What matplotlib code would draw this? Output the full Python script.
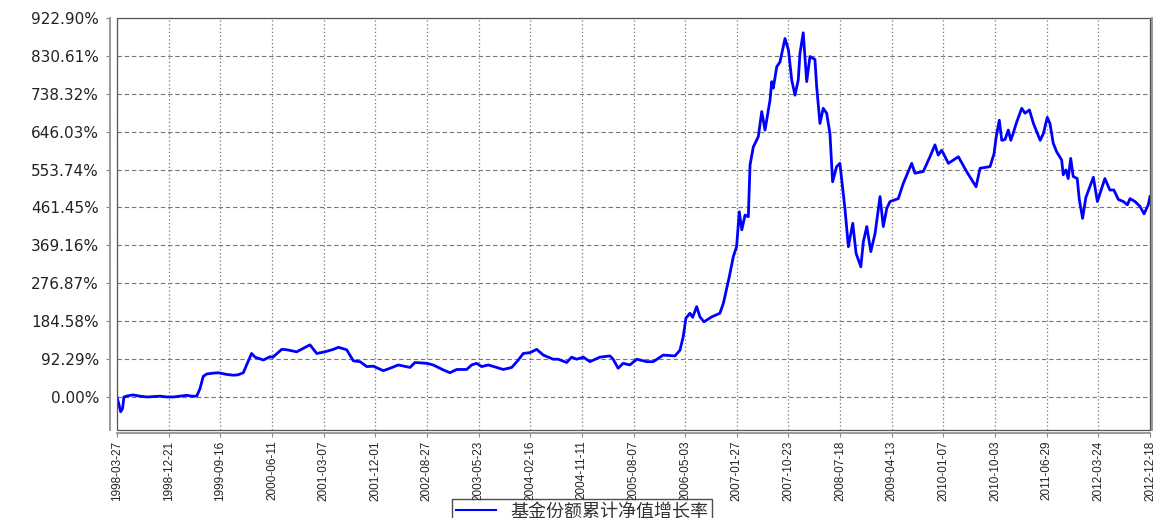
import numpy as np
import matplotlib
matplotlib.use("Agg")
import matplotlib.pyplot as plt
from matplotlib.patches import Rectangle
from matplotlib.lines import Line2D

# cumulative NAV growth (%)
dates = [
    "1998-03-27", "1998-04-06", "1998-04-15", "1998-04-25", "1998-05-02", "1998-05-23",
    "1998-06-18", "1998-07-25", "1998-08-30", "1998-09-30", "1998-11-06", "1998-12-12",
    "1999-01-13", "1999-02-18", "1999-03-25", "1999-04-21", "1999-05-16", "1999-06-02",
    "1999-06-19", "1999-07-07", "1999-08-10", "1999-09-05", "1999-10-19", "1999-11-23",
    "1999-12-17", "2000-01-14", "2000-01-31", "2000-02-26", "2000-03-15", "2000-04-27",
    "2000-06-01", "2000-06-16", "2000-08-01", "2000-08-27", "2000-10-18", "2000-12-26",
    "2001-01-30", "2001-03-14", "2001-04-27", "2001-05-23", "2001-07-05", "2001-08-09",
    "2001-09-13", "2001-10-18", "2001-11-21", "2002-01-12", "2002-02-16", "2002-03-31",
    "2002-05-31", "2002-06-26", "2002-08-26", "2002-09-29", "2002-11-20", "2002-12-25",
    "2003-01-29", "2003-03-22", "2003-04-17", "2003-05-13", "2003-06-08", "2003-07-13",
    "2003-08-25", "2003-09-29", "2003-11-12", "2003-12-16", "2004-01-11", "2004-02-15",
    "2004-03-21", "2004-04-24", "2004-06-15", "2004-07-11", "2004-08-24", "2004-09-19",
    "2004-10-15", "2004-11-19", "2004-12-23", "2005-02-13", "2005-04-06", "2005-04-23",
    "2005-05-19", "2005-06-14", "2005-07-19", "2005-08-24", "2005-10-15", "2005-11-18",
    "2006-01-09", "2006-03-11", "2006-04-06", "2006-04-23", "2006-05-07", "2006-05-28",
    "2006-06-11", "2006-07-02", "2006-07-19", "2006-08-09", "2006-09-18", "2006-10-31",
    "2006-11-18", "2006-12-19", "2007-01-09", "2007-01-26", "2007-02-09", "2007-02-22",
    "2007-03-11", "2007-03-28", "2007-04-06", "2007-04-23", "2007-05-19", "2007-06-06",
    "2007-06-23", "2007-07-19", "2007-07-28", "2007-08-05", "2007-08-23", "2007-09-09",
    "2007-10-05", "2007-10-23", "2007-11-09", "2007-11-26", "2007-12-13", "2007-12-22",
    "2008-01-08", "2008-01-26", "2008-02-12", "2008-03-09", "2008-03-18", "2008-04-04",
    "2008-04-21", "2008-05-09", "2008-05-26", "2008-06-09", "2008-06-30", "2008-07-17",
    "2008-08-13", "2008-08-30", "2008-09-22", "2008-10-09", "2008-11-03", "2008-11-16",
    "2008-12-04", "2008-12-25", "2009-01-16", "2009-02-11", "2009-02-28", "2009-03-18",
    "2009-04-04", "2009-05-17", "2009-06-12", "2009-07-26", "2009-08-12", "2009-09-24",
    "2009-10-29", "2009-11-24", "2009-12-11", "2009-12-29", "2010-02-02", "2010-03-26",
    "2010-05-08", "2010-06-26", "2010-07-17", "2010-09-07", "2010-09-28", "2010-10-08",
    "2010-10-25", "2010-11-07", "2010-11-24", "2010-12-11", "2010-12-24", "2011-01-06",
    "2011-01-24", "2011-02-19", "2011-03-08", "2011-03-31", "2011-04-21", "2011-05-08",
    "2011-05-26", "2011-06-12", "2011-07-02", "2011-07-16", "2011-08-02", "2011-08-20",
    "2011-09-15", "2011-09-23", "2011-10-07", "2011-10-19", "2011-11-01", "2011-11-14",
    "2011-12-05", "2011-12-16", "2012-01-02", "2012-01-19", "2012-02-27", "2012-03-19",
    "2012-04-10", "2012-04-27", "2012-05-23", "2012-06-13", "2012-07-06", "2012-08-01",
    "2012-08-22", "2012-09-05", "2012-10-01", "2012-10-27", "2012-11-17", "2012-12-09",
    "2012-12-18",
]
growth = [
    0, -18, -36, -28, 0, 3,
    5, 2, 0, 1, 2, 0,
    0, 2, 4, 2, 2, 20,
    50, 56, 58, 59, 55, 53,
    54, 59, 78, 106, 97, 90,
    98, 97, 116, 115, 110, 127,
    106, 110, 116, 121, 115, 88,
    86, 74, 75, 64, 70, 78,
    72, 84, 82, 78, 66, 59,
    67, 67, 78, 82, 74, 78,
    72, 67, 72, 90, 106, 108,
    116, 102, 92, 92, 84, 97,
    92, 97, 86, 97, 100, 92,
    70, 82, 78, 92, 86, 86,
    102, 100, 114, 147, 192, 204,
    194, 220, 195, 183, 195, 204,
    228, 293, 342, 366, 451, 407,
    443, 439, 565, 609, 634, 695,
    650, 723, 768, 752, 804, 816,
    873, 845, 772, 735, 772, 837,
    887, 768, 829, 822, 756, 666,
    703, 691, 642, 524, 561, 569,
    455, 366, 423, 350, 317, 378,
    415, 354, 398, 488, 415, 459,
    476, 483, 520, 569, 545, 549,
    585, 614, 589, 601, 569, 585,
    549, 512, 557, 561, 593, 630,
    674, 625, 627, 650, 625, 643,
    670, 703, 691, 699, 666, 646,
    625, 642, 681, 666, 618, 597,
    577, 541, 553, 532, 581, 537,
    532, 480, 435, 486, 535, 476,
    508, 532, 504, 504, 481, 476,
    468, 483, 476, 464, 446, 468,
    488,
]

tick_dates = [
    "1998-03-27", "1998-12-21", "1999-09-16", "2000-06-11", "2001-03-07",
    "2001-12-01", "2002-08-27", "2003-05-23", "2004-02-16", "2004-11-11",
    "2005-08-07", "2006-05-03", "2007-01-27", "2007-10-23", "2008-07-18",
    "2009-04-13", "2010-01-07", "2010-10-03", "2011-06-29", "2012-03-24",
    "2012-12-18",
]
y_ticks = [0.00, 92.29, 184.58, 276.87, 369.16, 461.45, 553.74, 646.03, 738.32, 830.61, 922.90]
legend_label = "基金份额累计净值增长率"

x = np.array(dates, dtype="datetime64[D]")
xt = np.array(tick_dates, dtype="datetime64[D]")

fig = plt.figure(figsize=(11.56, 5.18), dpi=100)
ax = fig.add_axes([117 / 1156, 1 - 430 / 518, (1150 - 117) / 1156, (430 - 18) / 518])

# grid: dashed horizontal, dotted vertical
for v in y_ticks:
    ax.axhline(v, color="#777777", lw=0.8, dashes=(4, 2.5), zorder=0)
for d in xt:
    ax.axvline(d, color="#777777", lw=0.9, dashes=(1, 2), zorder=0)

ax.plot(x, growth, color="#0000ff", lw=2.0)

ax.set_xlim(xt[0], xt[-1])
ax.set_ylim(-80.4, 922.90)

# inner plot border plus offset gray axis lines
ax.add_patch(Rectangle((0, 0), 1, 1, transform=ax.transAxes, fill=False,
                       edgecolor="#555555", lw=0.9, zorder=3, clip_on=False))
ax.spines["top"].set_visible(False)
ax.spines["left"].set_position(("outward", 5))
ax.spines["bottom"].set_position(("outward", 2.5))
ax.spines["right"].set_position(("outward", 1.5))
for side in ["left", "bottom", "right"]:
    ax.spines[side].set_color("#999999")
    ax.spines[side].set_linewidth(1.4)

ax.set_yticks(y_ticks)
ax.set_yticklabels([f"{v:.2f}%" for v in y_ticks])
ax.set_xticks(xt)
ax.set_xticklabels(tick_dates)
ax.tick_params(axis="both", direction="out", length=3, width=0.8, color="#888888",
               labelcolor="#222222")
ax.tick_params(axis="y", pad=5, labelsize=11)
ax.tick_params(axis="x", pad=2, labelsize=8.5, labelrotation=90)
for lbl in ax.get_xticklabels():
    lbl.set_fontfamily(["Liberation Sans", "DejaVu Sans"])
    lbl.set_fontsize(8.5)
for lbl in ax.get_yticklabels():
    lbl.set_fontfamily("DejaVu Sans")
    lbl.set_fontsize(11)

leg = fig.legend(handles=[Line2D([], [], color="#0000ff", lw=1.5)], labels=[legend_label],
                 loc="upper center", bbox_to_anchor=(582 / 1156, 1 - 499 / 518),
                 frameon=True, fancybox=False, handlelength=2.2, borderpad=0.2,
                 borderaxespad=0,
                 prop={"family": ["Noto Sans CJK SC", "DejaVu Sans"], "size": 13})
leg.get_frame().set_edgecolor("#222222")
leg.get_frame().set_linewidth(1.0)
for t in leg.get_texts():
    t.set_color("#333333")

fig.savefig("out.png", dpi=100)
